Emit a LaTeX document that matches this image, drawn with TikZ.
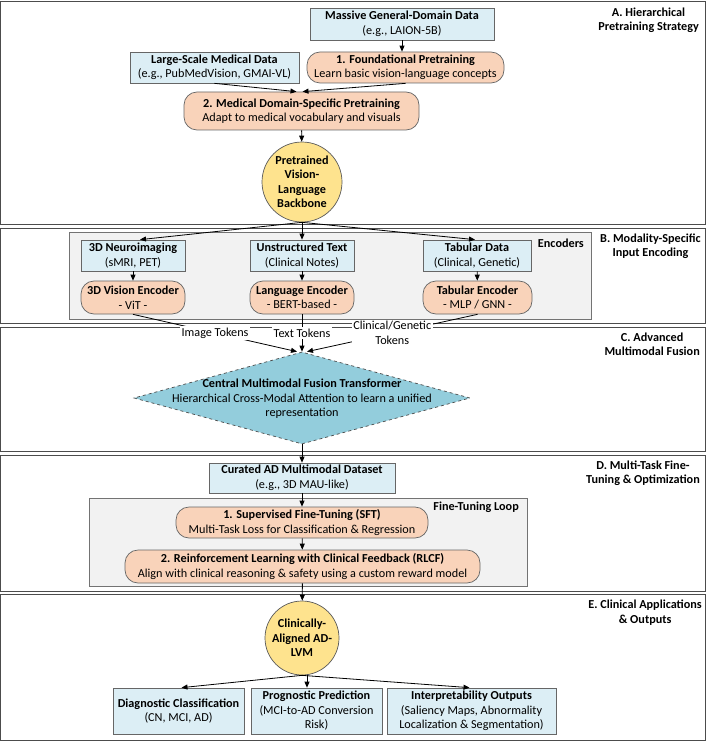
\documentclass[tikz,border=0pt]{standalone}
\usepackage{fontspec}
\setmainfont{Carlito}
\usetikzlibrary{arrows.meta, positioning, shapes.geometric}

\definecolor{datblue}{HTML}{DCEEF5}
\definecolor{procpeach}{HTML}{F9D3BA}
\definecolor{modelyel}{HTML}{FEE38E}
\definecolor{fuseteal}{HTML}{93CDDC}
\definecolor{clustgray}{HTML}{F2F2F2}

\newcommand{\nodefont}{\fontsize{12.2}{14.5}\selectfont}
\newcommand{\twoln}[2]{\textbf{#1}\\#2}

\tikzset{
  sect/.style={draw=black!70, line width=0.8pt, fill=white},
  clust/.style={draw=black!55, fill=clustgray, line width=0.7pt},
  datbox/.style={rectangle, draw=black!60, fill=datblue, line width=0.7pt},
  procbox/.style={rectangle, rounded corners=13pt, draw=black!60, fill=procpeach, line width=0.7pt},
  modcirc/.style={circle, draw=black!65, fill=modelyel, line width=0.7pt, font=\nodefont\bfseries},
  fusedia/.style={diamond, draw=black!70, dashed, fill=fuseteal, line width=0.7pt},
  arr/.style={line width=0.8pt, -{Triangle[length=6pt,width=5pt]}},
  toklbl/.style={fill=white, inner sep=1.5pt},
  seclbl/.style={anchor=east, font=\nodefont\bfseries},
}

\begin{document}
\begin{tikzpicture}[x=1pt, y=-1pt, every node/.style={font=\nodefont, align=center, inner sep=0pt}]
\useasboundingbox (0,0) rectangle (707,741);

% sections
\draw[sect] (0.5,1) rectangle (705,224.5);
\draw[sect] (0.5,228.5) rectangle (705,323.5);
\draw[sect] (0.5,327) rectangle (705,451.5);
\draw[sect] (0.5,455) rectangle (705,591);
\draw[sect] (0.5,594.5) rectangle (705,740);
\node[seclbl] (labA) at (699,20.5) {A. Hierarchical\\Pretraining Strategy};
\node[seclbl] (labB) at (701,246) {B. Modality-Specific\\Input Encoding};
\node[seclbl] (labC) at (700,344.5) {C. Advanced\\Multimodal Fusion};
\node[seclbl] (labD) at (700,473) {D. Multi-Task Fine-\\Tuning \& Optimization};
\node[seclbl] (labE) at (702,612.5) {E. Clinical Applications\\\& Outputs};

% clusters
\draw[clust] (69,232) rectangle (591,319);
\node[seclbl] (labenc) at (584,243.5) {Encoders};
\draw[clust] (89,498) rectangle (527,586);
\node[seclbl] (labloop) at (519,507.5) {Fine-Tuning Loop};

% A. pretraining
\node[datbox, minimum width=184pt, minimum height=32pt] (gendata) at (402,24) {\twoln{Massive General-Domain Data}{(e.g., LAION-5B)}};
\node[procbox, minimum width=197pt, minimum height=31pt] (foundpre) at (405.5,67.5) {\twoln{1. Foundational Pretraining}{Learn basic vision-language concepts}};
\node[datbox, minimum width=169pt, minimum height=31pt] (meddata) at (214.5,67.5) {\twoln{Large-Scale Medical Data}{(e.g., PubMedVision, GMAI-VL)}};
\node[procbox, minimum width=235pt, minimum height=38pt] (medpre) at (301.5,111) {\twoln{2. Medical Domain-Specific Pretraining}{Adapt to medical vocabulary and visuals}};
\node[modcirc, minimum size=80pt] (backbone) at (302,182) {Pretrained\\Vision-\\Language\\Backbone};

% B. encoders
\node[datbox, minimum width=104pt, minimum height=31pt] (neuro) at (133,255.5) {\twoln{3D Neuroimaging}{(sMRI, PET)}};
\node[datbox, minimum width=104pt, minimum height=31pt] (clintext) at (302,255.5) {\twoln{Unstructured Text}{(Clinical Notes)}};
\node[datbox, minimum width=108pt, minimum height=31pt] (tabdata) at (477,255.5) {\twoln{Tabular Data}{(Clinical, Genetic)}};
\node[procbox, minimum width=104pt, minimum height=33pt] (visenc) at (133,297.5) {\twoln{3D Vision Encoder}{- ViT -}};
\node[procbox, minimum width=104pt, minimum height=33pt] (langenc) at (302,297.5) {\twoln{Language Encoder}{- BERT-based -}};
\node[procbox, minimum width=109pt, minimum height=33pt] (tabenc) at (477.5,297.5) {\twoln{Tabular Encoder}{- MLP / GNN -}};

% C. fusion
\node[fusedia, minimum width=336pt, minimum height=92pt] (fusion) at (302,398) {};
\node (fusetxt) at (302,399) {\textbf{Central Multimodal Fusion Transformer}\\Hierarchical Cross-Modal Attention to learn a unified\\representation};

% D. fine-tuning
\node[datbox, minimum width=186pt, minimum height=30pt] (curated) at (302,478) {\twoln{Curated AD Multimodal Dataset}{(e.g., 3D MAU-like)}};
\node[procbox, minimum width=252pt, minimum height=31pt] (sft) at (302,522.5) {\twoln{1. Supervised Fine-Tuning (SFT)}{Multi-Task Loss for Classification \& Regression}};
\node[procbox, minimum width=355pt, minimum height=33pt] (rlcf) at (302.5,566.5) {\twoln{2. Reinforcement Learning with Clinical Feedback (RLCF)}{Align with clinical reasoning \& safety using a custom reward model}};

% E. outputs
\node[modcirc, minimum size=74pt] (admodel) at (302,638) {Clinically-\\Aligned AD-\\LVM};
\node[datbox, minimum width=131pt, minimum height=46pt] (diagcls) at (178.5,711) {\twoln{Diagnostic Classification}{(CN, MCI, AD)}};
\node[datbox, minimum width=131pt, minimum height=46pt] (progpred) at (316.5,711) {\textbf{Prognostic Prediction}\\(MCI-to-AD Conversion\\Risk)};
\node[datbox, minimum width=169pt, minimum height=46pt] (interp) at (471.5,711) {\textbf{Interpretability Outputs}\\(Saliency Maps, Abnormality\\Localization \& Segmentation)};

% edges
\draw[arr] (gendata.south) -- (gendata.south |- foundpre.north);
\draw[arr] (meddata.south) -- ([xshift=-5pt]medpre.north);
\draw[arr] (foundpre.south) -- ([xshift=1pt]medpre.north);
\draw[arr] (medpre) -- (backbone);
\draw[arr] (backbone.south) -- ([xshift=7pt]neuro.north);
\draw[arr] (backbone) -- (clintext);
\draw[arr] (backbone.south) -- ([xshift=-2pt]tabdata.north);
\draw[arr] (neuro) -- (visenc);
\draw[arr] (clintext) -- (langenc);
\draw[arr] (tabdata) -- (tabenc);
\draw[arr] (visenc.south) -- ([xshift=-5pt]fusion.north) node[toklbl, midway] {Image Tokens};
\draw[arr] (langenc) -- (fusion.north) node[toklbl, midway] {Text Tokens};
\draw[arr] (tabenc.south) -- ([xshift=5pt]fusion.north) node[toklbl, midway] {Clinical/Genetic\\Tokens};
\draw[arr] (fusion) -- (curated);
\draw[arr] (curated) -- (sft);
\draw[arr] (sft) -- (rlcf);
\draw[arr] (rlcf) -- (admodel);
\draw[arr] (admodel.south) -- ([xshift=3pt]diagcls.north);
\draw[arr] ([xshift=5pt]admodel.south) -- ([xshift=-9.5pt]progpred.north);
\draw[arr] (admodel.south) -- ([xshift=-2pt]interp.north);
\end{tikzpicture}
\end{document}
